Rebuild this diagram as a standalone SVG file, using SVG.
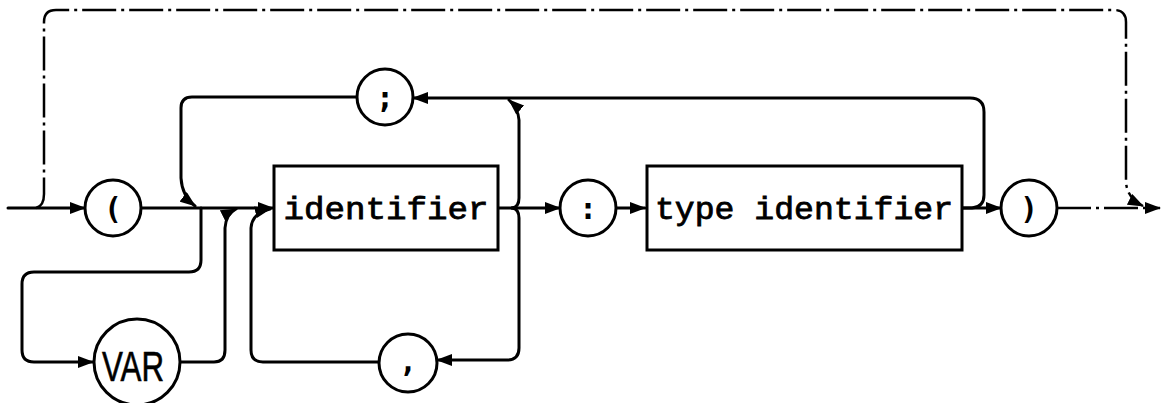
<svg xmlns="http://www.w3.org/2000/svg" width="1166" height="403" viewBox="0 0 1166 403">
<style>
.ln{fill:none;stroke:#000;stroke-width:3;stroke-linecap:round;stroke-linejoin:round}
.dash{fill:none;stroke:#000;stroke-width:2.5;stroke-dasharray:34 5 3 5}
.nd{fill:#fff;stroke:#000;stroke-width:3}
.tx{font-family:"Liberation Mono","DejaVu Sans Mono",monospace;font-size:31px;fill:#000;stroke:#000;stroke-width:0.8}
.sy{font-family:"DejaVu Sans Mono","Liberation Mono",monospace;font-size:30px;fill:#000;font-weight:bold;text-anchor:middle}
.va{font-family:"Liberation Sans","DejaVu Sans",sans-serif;font-size:42px;fill:#000;stroke:#000;stroke-width:0.6;text-anchor:middle}
</style>
<defs>
<marker id="ar" viewBox="0 0 16 12" refX="15" refY="6" markerWidth="16" markerHeight="12" markerUnits="userSpaceOnUse" orient="auto">
<path d="M0,0 L16,6 L0,12 Z" fill="#000"/>
</marker>
</defs>
<rect width="1166" height="403" fill="#fff"/>
<g id="connectors">
<path class="ln" d="M8,208 H85" marker-end="url(#ar)"/>
<path class="ln" d="M141,208 H273" marker-end="url(#ar)"/>
<path class="ln" d="M357,97 H192 Q181,97 181,108 V178 Q182,196 195,206" marker-end="url(#ar)"/>
<path class="ln" d="M201,208 V260 Q201,272 189,272 H34 Q22,272 22,284 V350 Q22,362 34,362 H93" marker-end="url(#ar)"/>
<path class="ln" d="M181,362 H214 Q225,362 225,350 V228 Q226,214 236,209" marker-end="url(#ar)"/>
<path class="ln" d="M379,362 H263 Q251,362 251,350 V228 Q252,213 270,209" marker-end="url(#ar)"/>
<path class="ln" d="M498,208 H560" marker-end="url(#ar)"/>
<path class="ln" d="M512,208 Q519,207 519,198 V120 Q518,108 509,100" marker-end="url(#ar)"/>
<path class="ln" d="M512,208 Q519,209 519,218 V348 Q519,360 507,360 H437" marker-end="url(#ar)"/>
<path class="ln" d="M616,208 H645" marker-end="url(#ar)"/>
<path class="ln" d="M962,208 H972 Q984,207 984,195 V112 Q984,98 970,98 H413" marker-end="url(#ar)"/>
<path class="ln" d="M962,208 H1001" marker-end="url(#ar)"/>
<path class="dash" d="M1057,208 H1160" marker-end="url(#ar)"/>
<path class="dash" d="M36,208 Q44,206 44,194 V22 Q44,10 56,10 H1114 Q1126,10 1126,22 V182 Q1127,198 1143,206" marker-end="url(#ar)"/>
</g>
<g id="n-lparen"><circle class="nd" cx="113" cy="208" r="28"/><text class="sy" x="113" y="219">(</text></g>
<g id="n-semicolon"><circle class="nd" cx="385" cy="97" r="28"/><text class="sy" x="385" y="108">;</text></g>
<g id="n-var"><circle class="nd" cx="137" cy="362" r="43"/><text class="va" x="133" y="381" textLength="62" lengthAdjust="spacingAndGlyphs">VAR</text></g>
<g id="n-identifier"><rect class="nd" x="274" y="166" width="224" height="84"/><text class="tx" x="386" y="219" text-anchor="middle" textLength="205" lengthAdjust="spacingAndGlyphs">identifier</text></g>
<g id="n-comma"><circle class="nd" cx="408" cy="363" r="29"/><text class="sy" x="408" y="372">,</text></g>
<g id="n-colon"><circle class="nd" cx="588" cy="208" r="28"/><text class="sy" x="588" y="219">:</text></g>
<g id="n-typeid"><rect class="nd" x="647" y="166" width="315" height="84"/><text class="tx" x="804" y="219" text-anchor="middle" textLength="298" lengthAdjust="spacingAndGlyphs">type identifier</text></g>
<g id="n-rparen"><circle class="nd" cx="1029" cy="208" r="28"/><text class="sy" x="1029" y="219">)</text></g>
</svg>
